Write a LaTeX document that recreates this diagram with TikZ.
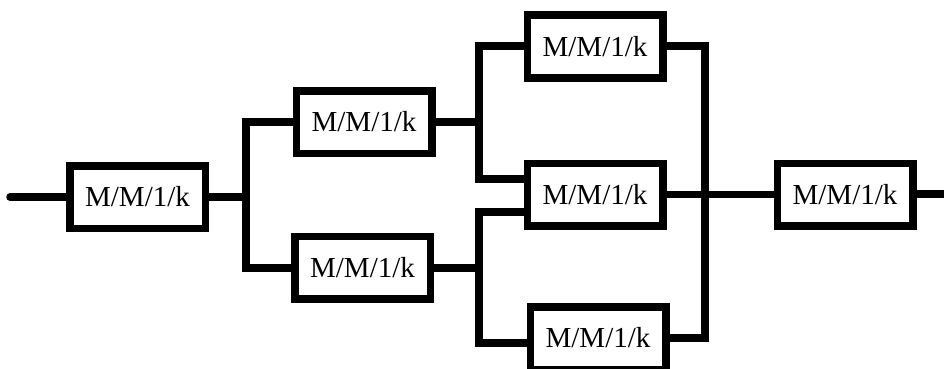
\documentclass[tikz,border=0pt]{standalone}
\usepackage{fontspec}
\setmainfont{Liberation Serif}
\begin{document}
\begin{tikzpicture}[x=1pt,y=-1pt,
  queue/.style={draw, line width=7.5pt, minimum width=135.5pt, minimum height=62.5pt, inner sep=0pt,
    font=\fontsize{29}{34}\selectfont, fill=white},
  wire/.style={line width=7.5pt, line join=miter}]
\useasboundingbox (0,0) rectangle (944,369);
\coordinate (in) at (10,197);
\coordinate (out) at (950,194);
\node[queue] (b1) at (137.5,197) {M/M/1/k};
\node[queue] (b2) at (364,122) {M/M/1/k};
\node[queue] (b3) at (362.5,267.5) {M/M/1/k};
\node[queue] (b4) at (595,46.5) {M/M/1/k};
\node[queue] (b5) at (595,194.5) {M/M/1/k};
\node[queue] (b6) at (598,338) {M/M/1/k};
\node[queue] (b7) at (845,194.5) {M/M/1/k};
\coordinate (j1t) at (246,122);
\coordinate (j1b) at (246,268);
\coordinate (j1m) at (246,197);
\coordinate (j2a) at (479,46);
\coordinate (j2b) at (479,179);
\coordinate (j2m) at (479,122);
\coordinate (j3a) at (479,212);
\coordinate (j3b) at (479,343);
\coordinate (j3m) at (479,268);
\coordinate (j4t) at (705,46);
\coordinate (j4b) at (705,338);
\draw[wire, line cap=round] (in) -- (b1.west |- in);
\draw[wire] (b1.east |- j1m) -- (j1m);
\draw[wire] (b2.west |- j1t) -- (j1t) -- (j1b) -- (b3.west |- j1b);
\draw[wire] (b2.east |- j2m) -- (j2m);
\draw[wire] (b3.east |- j3m) -- (j3m);
\draw[wire] (b4.west |- j2a) -- (j2a) -- (j2b) -- (b5.west |- j2b);
\draw[wire] (b5.west |- j3a) -- (j3a) -- (j3b) -- (b6.west |- j3b);
\draw[wire] (b4.east |- j4t) -- (j4t) -- (j4b) -- (b6.east |- j4b);
\draw[wire] (b5.east) -- (b7.west);
\draw[wire] (b7.east |- out) -- (out);
\end{tikzpicture}
\end{document}
